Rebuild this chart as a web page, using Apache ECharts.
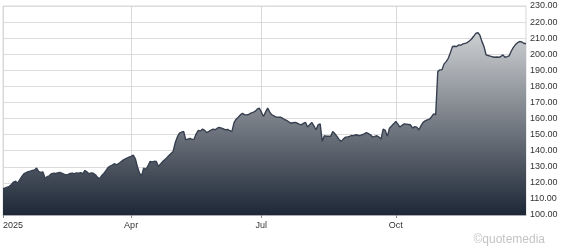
<!DOCTYPE html>
<html>
<head>
<meta charset="utf-8">
<script src="https://cdn.jsdelivr.net/npm/echarts@6/dist/echarts.min.js"></script>
<style>
html,body{margin:0;padding:0;background:#fff;}
#c{width:562px;height:248px;}
</style>
</head>
<body>
<div id="c"></div>
<script>
// Trading days of 2025 (market holidays removed)
const holidays = ['2025-01-01','2025-01-20','2025-02-17','2025-04-18','2025-05-26','2025-06-19','2025-07-04','2025-09-01','2025-11-27','2025-12-25'];
const firstDay = '2025-01-02';
const lastDay = '2025-12-30';

// Month-start tick labels
const tickLabels = {'2025-01-02':'2025','2025-04-01':'Apr','2025-07-01':'Jul','2025-10-01':'Oct'};

// Closing prices
const prices = [
116.4,116.8,117.3,117.8,119.0,120.5,121.0,119.9,122.0,124.0,
125.7,126.3,127.0,127.3,127.7,128.0,129.2,127.0,126.5,126.8,
123.0,123.8,124.4,125.6,126.0,125.8,126.2,126.5,126.0,125.4,
125.0,125.3,125.8,126.0,125.7,126.2,126.0,126.4,125.7,127.7,
126.8,125.7,126.2,126.0,125.0,123.5,122.6,124.5,125.8,127.6,
129.5,130.4,131.0,131.9,131.2,131.9,133.0,134.0,134.8,135.4,
136.0,136.5,137.3,135.0,130.0,126.0,124.4,129.2,128.2,130.5,
133.3,133.0,133.4,133.3,130.2,131.8,133.2,134.4,135.6,137.0,
138.3,139.5,145.0,148.5,150.9,151.5,152.0,146.8,147.2,147.6,
147.0,147.2,150.5,152.6,152.3,153.4,152.6,151.3,152.0,152.8,
153.4,153.0,154.0,154.5,154.0,153.5,153.0,153.2,152.4,152.0,
157.5,159.6,160.8,162.3,163.2,162.4,162.3,162.5,163.4,163.8,
164.4,165.8,166.5,164.0,161.3,164.0,166.5,164.0,162.3,161.6,
160.9,160.8,160.9,160.2,159.4,158.8,158.0,157.1,157.4,157.6,
157.2,156.5,156.1,157.0,157.6,154.7,156.2,157.6,155.5,153.0,
156.0,156.7,145.8,149.3,149.0,149.0,148.9,152.0,150.5,148.9,
147.0,145.8,147.2,148.4,148.6,148.9,149.5,149.4,149.9,149.6,
149.3,150.0,150.5,151.3,150.6,149.9,148.4,148.9,149.3,148.5,
147.2,153.4,152.6,148.9,154.0,155.3,156.7,158.2,156.5,154.7,
155.8,156.7,156.5,156.3,156.1,154.0,155.0,154.7,153.0,155.4,
157.6,158.5,159.2,159.6,161.0,162.9,162.3,189.2,190.3,190.3,
194.0,195.4,197.5,201.0,204.8,205.0,204.8,205.8,205.6,206.4,
206.8,207.2,208.2,209.3,211.0,212.8,213.5,212.0,208.0,204.8,
199.6,199.2,198.8,198.4,198.1,198.3,198.1,198.6,199.6,198.1,
198.5,199.0,202.0,204.3,206.0,207.2,207.9,207.6,206.8,206.5
];

// build category list of trading dates
const dates = [];
(function(){
  const d = new Date(firstDay + 'T00:00:00Z');
  const end = new Date(lastDay + 'T00:00:00Z');
  while (d <= end) {
    const wd = d.getUTCDay();
    const s = d.toISOString().slice(0,10);
    if (wd !== 0 && wd !== 6 && holidays.indexOf(s) < 0) dates.push(s);
    d.setUTCDate(d.getUTCDate() + 1);
  }
})();

const isTick = (i, v) => tickLabels.hasOwnProperty(v);

const chart = echarts.init(document.getElementById('c'), null, {renderer:'canvas'});
chart.setOption({
  animation: false,
  backgroundColor: '#fff',
  textStyle: {fontFamily: 'Liberation Sans'},
  grid: {left: 3, right: 36, top: 6, bottom: 33, show: true, borderColor: '#d8d8d8', borderWidth: 1, backgroundColor: 'transparent'},
  xAxis: {
    type: 'category',
    data: dates,
    boundaryGap: false,
    axisLine: {show: true, lineStyle: {color: '#a9adb3', width: 1}},
    axisTick: {show: true, interval: isTick, length: 3, lineStyle: {color: '#888'}},
    axisLabel: {
      interval: isTick,
      formatter: v => tickLabels[v] || '',
      color: '#333', fontSize: 9, fontFamily: 'Liberation Sans', margin: 6,
      alignMinLabel: 'left'
    },
    splitLine: {show: true, interval: isTick, lineStyle: {color: '#d8d8d8', width: 1}}
  },
  yAxis: {
    type: 'value',
    position: 'right',
    min: 100, max: 230, interval: 10,
    axisLine: {show: false},
    axisTick: {show: false},
    axisLabel: {formatter: v => v.toFixed(2), color: '#333', fontSize: 9, fontFamily: 'Liberation Sans', margin: 4},
    splitLine: {show: true, lineStyle: {color: '#dcdcdc', width: 1}}
  },
  series: [{
    type: 'line',
    data: prices,
    showSymbol: false,
    symbol: 'none',
    lineStyle: {color: '#374050', width: 1.4},
    areaStyle: {
      opacity: 1,
      color: new echarts.graphic.LinearGradient(0, 30, 0, 215, [
        {offset: 0, color: '#d0d2d4'},
        {offset: 1, color: '#1d2736'}
      ], true)
    }
  }],
  graphic: [{
    type: 'text',
    right: 17, bottom: 2,
    style: {text: '©quotemedia', fill: '#c4c4c4', font: '12px "Liberation Sans"'}
  }]
});
</script>
</body>
</html>
